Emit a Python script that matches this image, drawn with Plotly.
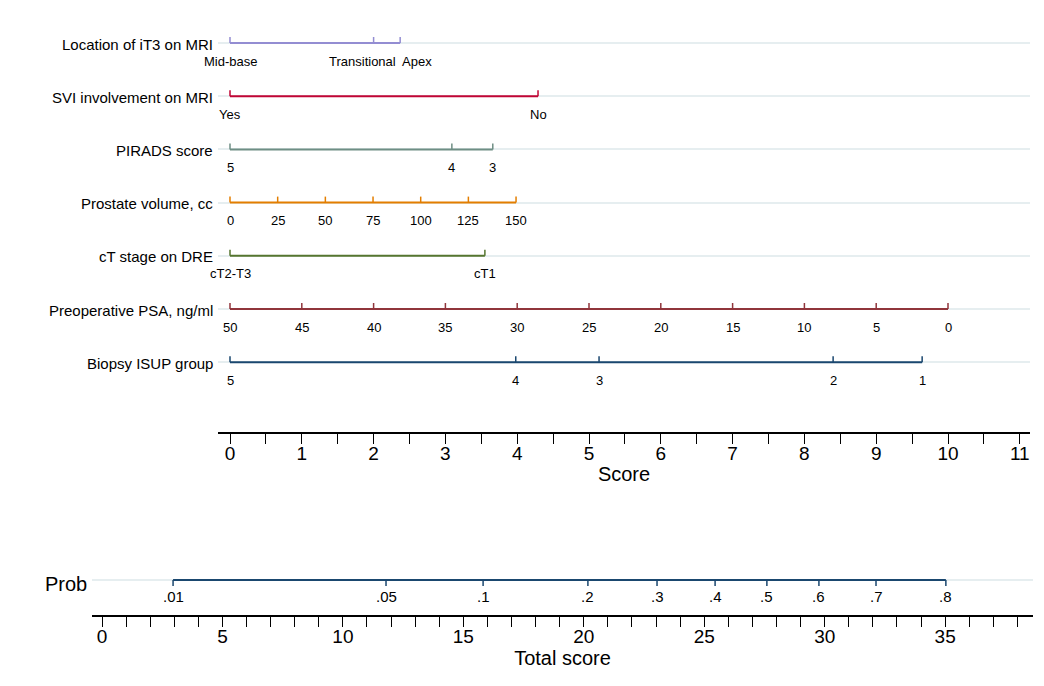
import plotly.graph_objects as go

W, H = 1044, 686

# ---- data ----
row_labels = ["Location of iT3 on MRI", "SVI involvement on MRI", "PIRADS score",
              "Prostate volume, cc", "cT stage on DRE", "Preoperative PSA, ng/ml",
              "Biopsy ISUP group"]
row_tick_pos = [
    [0, 2.0, 2.37],
    [0, 4.29],
    [0, 3.09, 3.66],
    [0, 0.664, 1.328, 1.992, 2.656, 3.32, 3.984],
    [0, 3.55],
    [0, 1, 2, 3, 4, 5, 6, 7, 8, 9, 10],
    [0, 3.98, 5.14, 8.40, 9.64],
]
row_tick_text = [
    ["Mid-base", "Transitional", "Apex"],
    ["Yes", "No"],
    ["5", "4", "3"],
    ["0", "25", "50", "75", "100", "125", "150"],
    ["cT2-T3", "cT1"],
    ["50", "45", "40", "35", "30", "25", "20", "15", "10", "5", "0"],
    ["5", "4", "3", "2", "1"],
]
row_colors = ["#938dd2", "#c10534", "#6e8e84", "#e37e00", "#55752f", "#90353b", "#1a476f"]
# horizontal nudges (px) of individual labels to avoid overlap
label_shift = {(0, 1): -11, (0, 2): 17}

prob_pos = [2.95, 11.79, 15.82, 20.17, 23.04, 25.45, 27.6, 29.76, 32.13, 35.03]
prob_text = [".01", ".05", ".1", ".2", ".3", ".4", ".5", ".6", ".7", ".8"]
total_major = [0, 5, 10, 15, 20, 25, 30, 35]
total_minor_max = 38
score_max = 11

# ---- geometry helpers (page body has an 8px default margin) ----
OFF = 8

def px(x):
    return (x - OFF) / W

def py(y):
    return 1 - (y - OFF) / H

top_x0, top_x1 = 218, 1030
top_zero, top_unit = 230, 71.8
top_range = [(top_x0 - top_zero) / top_unit, (top_x1 - top_zero) / top_unit]
row_y0, row_dy = 43, 53.2
axis_y = 432
top_yrange = [(axis_y - row_y0) / row_dy, (20 - row_y0) / row_dy]

bot_x0, bot_x1 = 92, 1033
bot_zero, bot_unit = 102, 24.09
bot_range = [(bot_x0 - bot_zero) / bot_unit, (bot_x1 - bot_zero) / bot_unit]
bot_axis_y, prob_y_px, bot_top = 615, 580, 560

fig = go.Figure()
FONT = "Liberation Sans, Arial, Helvetica, sans-serif"
tick_h = 6 / row_dy

annotations = []
for i, (lab, pos, txt, col) in enumerate(zip(row_labels, row_tick_pos, row_tick_text, row_colors)):
    lo, hi = min(pos), max(pos)
    fig.add_trace(go.Scatter(x=[lo, hi], y=[i, i], mode="lines",
                             line=dict(color=col, width=2), hoverinfo="skip",
                             showlegend=False, xaxis="x", yaxis="y"))
    tx, ty = [], []
    for v in pos:
        tx += [v, v, None]
        ty += [i, i - tick_h, None]
    fig.add_trace(go.Scatter(x=tx, y=ty, mode="lines", line=dict(color=col, width=1.5),
                             hoverinfo="skip", showlegend=False, xaxis="x", yaxis="y"))
    for j, (v, t) in enumerate(zip(pos, txt)):
        annotations.append(dict(x=v, y=i, xref="x", yref="y", text=t, showarrow=False,
                                yshift=-18, yanchor="middle", xanchor="center",
                                xshift=label_shift.get((i, j), 0),
                                font=dict(size=13, color="#000", family=FONT)))
    annotations.append(dict(x=px(215), y=py(row_y0 + i * row_dy + 1), xref="paper", yref="paper",
                            text=lab, showarrow=False, xanchor="right", yanchor="middle",
                            font=dict(size=15, color="#000", family=FONT)))

# Prob row
prob_row_y = (bot_axis_y - prob_y_px) / (bot_axis_y - bot_top)
fig.add_trace(go.Scatter(x=[min(prob_pos), max(prob_pos)], y=[prob_row_y] * 2, mode="lines",
                         line=dict(color="#1a476f", width=2), hoverinfo="skip",
                         showlegend=False, xaxis="x2", yaxis="y2"))
tx, ty = [], []
for v in prob_pos:
    tx += [v, v, None]
    ty += [prob_row_y, prob_row_y - 6 / (bot_axis_y - bot_top), None]
fig.add_trace(go.Scatter(x=tx, y=ty, mode="lines", line=dict(color="#1a476f", width=1.5),
                         hoverinfo="skip", showlegend=False, xaxis="x2", yaxis="y2"))
for v, t in zip(prob_pos, prob_text):
    annotations.append(dict(x=v, y=prob_row_y, xref="x2", yref="y2", text=t, showarrow=False,
                            yshift=-16, yanchor="middle", xanchor="center",
                            font=dict(size=15, color="#000", family=FONT)))
annotations.append(dict(x=px(89), y=py(584), xref="paper", yref="paper", text="Prob",
                        showarrow=False, xanchor="right", yanchor="middle",
                        font=dict(size=20, color="#000", family=FONT)))

top_ticks = [k / 2 for k in range(0, 2 * score_max + 1)]
top_ticktext = [str(int(v)) if v == int(v) else "" for v in top_ticks]
bot_ticks = list(range(0, total_minor_max + 1))
bot_ticktext = [str(v) if v in total_major else "" for v in bot_ticks]

axis_common = dict(showgrid=False, zeroline=False, showline=True, linecolor="#000",
                   linewidth=1.5, ticks="outside", ticklen=10, tickcolor="#000", tickwidth=1,
                   tickfont=dict(size=19, family=FONT), ticklabelstandoff=-7)

fig.update_layout(
    width=W, height=H, margin=dict(l=0, r=0, t=0, b=0),
    paper_bgcolor="white", plot_bgcolor="white",
    font=dict(family=FONT, color="#000"),
    xaxis=dict(domain=[px(top_x0), px(top_x1)], range=top_range,
               tickvals=top_ticks, ticktext=top_ticktext, anchor="y",
               title=dict(text="Score", font=dict(size=20, family=FONT), standoff=4),
               **axis_common),
    yaxis=dict(domain=[py(axis_y), py(20)], range=top_yrange, showgrid=True,
               gridcolor="#e6eef0", gridwidth=2, tickvals=list(range(len(row_labels))),
               showticklabels=False, zeroline=False, showline=False, anchor="x"),
    xaxis2=dict(domain=[px(bot_x0), px(bot_x1)], range=bot_range,
                tickvals=bot_ticks, ticktext=bot_ticktext, anchor="y2",
                title=dict(text="Total score", font=dict(size=20, family=FONT), standoff=0),
                **axis_common),
    yaxis2=dict(domain=[py(bot_axis_y), py(bot_top)], range=[0, 1], showgrid=True,
                gridcolor="#e6eef0", gridwidth=2, tickvals=[prob_row_y],
                showticklabels=False, zeroline=False, showline=False, anchor="x2"),
    annotations=annotations,
)

fig.write_html("out.html")
